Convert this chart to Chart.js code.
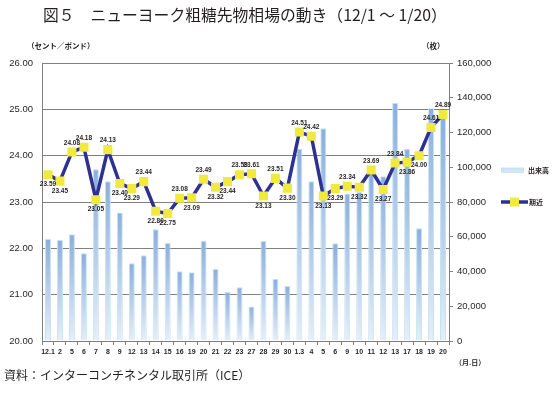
<!DOCTYPE html>
<html lang="ja">
<head>
  <meta charset="UTF-8" />
  <title>ニューヨーク粗糖先物相場の動き</title>
  <script src="https://cdn.jsdelivr.net/npm/chart.js"></script>
  <style>
    body { margin: 0; background: #fff; }
    .wrap { position: relative; width: 554px; height: 396px; }
    .title {
      position: absolute; left: 43px; top: 6px;
      font: 15.8px "Noto Sans CJK JP", sans-serif; color: #231f20; line-height: 18px;
      white-space: nowrap;
    }
    .unit {
      position: absolute; top: 40px;
      font: bold 7.5px "Noto Sans CJK JP", sans-serif; color: #231f20; white-space: nowrap;
    }
    .source {
      position: absolute; left: 4px; top: 366px;
      font: 12px "Noto Sans CJK JP", sans-serif; color: #231f20; white-space: nowrap;
    }
    .xunit {
      position: absolute; left: 455px; top: 357px;
      font: bold 7px "Noto Sans CJK JP", sans-serif; color: #231f20;
    }
    canvas { position: absolute; left: 0; top: 0; }
  </style>
</head>
<body>
<div class="wrap">
  <canvas id="c" width="554" height="396"></canvas>
  <div class="title">図５　ニューヨーク粗糖先物相場の動き（12/1 ～ 1/20）</div>
  <div class="unit" style="left:27px">（セント／ポンド）</div>
  <div class="unit" style="left:422px">（枚）</div>
  <div class="xunit">（月.日）</div>
  <div class="source">資料：インターコンチネンタル取引所（ICE）</div>
</div>

<script>
  // 日付
  const dates = ['12.1','2','5','6','7','8','9','12','13','14','15','16','19','20','21','22','23','27','28','29','30',
                 '1.3','4','5','6','9','10','11','12','13','17','18','19','20'];
  // 期近 (セント/ポンド)
  const prices = [23.59,23.45,24.08,24.18,23.05,24.13,23.40,23.29,23.44,22.80,22.75,23.08,23.09,23.49,23.32,23.44,23.59,23.61,23.13,23.51,23.30,
                  24.51,24.42,23.13,23.29,23.34,23.32,23.69,23.27,23.84,23.86,24.00,24.61,24.89];
  // 出来高 (枚)
  const volumes = [58700,58100,61400,50500,98800,91900,74000,44800,49400,64300,56400,40200,39600,57600,41500,28200,31000,19800,57600,35800,31600,
                   110700,92000,122500,56300,84900,85800,97000,94800,137000,110700,64900,134000,128500];
  // ラベルの位置 (a: 上, b: 下)
  const labelSide = ['b','b','a','a','b','a','b','b','a','b','b','a','b','a','b','b','a','a','b','a','b',
                     'a','a','b','b','a','b','a','b','a','b','b','a','a'];

  const gray = '#808080';
  const ink = '#231f20';

  // データラベルと凡例
  const extras = {
    id: 'extras',
    afterDatasetsDraw(chart) {
      const ctx = chart.ctx;
      const meta = chart.getDatasetMeta(1);
      ctx.save();
      ctx.font = 'bold 6.5px "Liberation Sans", Arial, sans-serif';
      ctx.fillStyle = ink;
      ctx.textAlign = 'center';
      ctx.textBaseline = 'middle';
      meta.data.forEach((pt, i) => {
        const dy = labelSide[i] === 'a' ? -9 : 10;
        ctx.fillText(prices[i].toFixed(2), pt.x, pt.y + dy);
      });

      // 凡例
      const x0 = chart.chartArea.right + 52;
      const y1 = chart.scales.y2.getPixelForValue(100000) + 3;
      const y2 = chart.scales.y2.getPixelForValue(80000);
      const g = ctx.createLinearGradient(0, y1 - 3, 0, y1 + 3);
      g.addColorStop(0, '#c6d8ee');
      g.addColorStop(1, '#e6eff9');
      ctx.fillStyle = g;
      ctx.fillRect(x0, y1 - 2.5, 23, 5);
      ctx.strokeStyle = '#c5e4f0';
      ctx.lineWidth = 1;
      ctx.strokeRect(x0 + 0.5, y1 - 2, 22, 4);

      ctx.strokeStyle = '#2e3192';
      ctx.lineWidth = 3.5;
      ctx.beginPath();
      ctx.moveTo(x0, y2);
      ctx.lineTo(x0 + 27, y2);
      ctx.stroke();
      ctx.fillStyle = '#f0ea3c';
      ctx.fillRect(x0 + 9, y2 - 4.5, 9, 9);

      ctx.fillStyle = ink;
      ctx.textAlign = 'left';
      ctx.font = 'bold 7px "Noto Sans CJK JP", sans-serif';
      ctx.fillText('出来高', x0 + 27, y1);
      ctx.fillText('期近', x0 + 28, y2);
      ctx.restore();
    }
  };

  new Chart(document.getElementById('c'), {
    data: {
      labels: dates,
      datasets: [
        {
          type: 'bar',
          label: '出来高',
          data: volumes,
          yAxisID: 'y2',
          order: 1,
          backgroundColor: (c) => {
            const chart = c.chart;
            if (!chart.chartArea) return '#a9c3e6';
            const top = chart.scales.y2.getPixelForValue(c.raw);
            const g = chart.ctx.createLinearGradient(0, top, 0, chart.chartArea.bottom);
            g.addColorStop(0, '#8caedc');
            g.addColorStop(1, '#e6eef9');
            return g;
          },
          borderColor: '#c5e4f0',
          borderWidth: 1,
          barPercentage: 0.5,
          categoryPercentage: 1
        },
        {
          type: 'line',
          label: '期近',
          data: prices,
          yAxisID: 'y',
          order: 0,
          borderColor: '#2e3192',
          borderWidth: 3.5,
          pointStyle: 'rect',
          pointRadius: 6.4,
          pointBackgroundColor: '#f0ea3c',
          pointBorderWidth: 0,
          tension: 0
        }
      ]
    },
    options: {
      responsive: false,
      animation: false,
      layout: { padding: { left: 0, right: 0, top: 63, bottom: 0 } },
      plugins: { legend: { display: false }, tooltip: { enabled: false } },
      scales: {
        x: {
          offset: true,
          afterFit: (s) => { s.height = 55; },
          grid: { offset: true, drawOnChartArea: false, drawTicks: true, tickLength: 4, color: gray },
          border: { color: gray },
          ticks: {
            autoSkip: false, maxRotation: 0, padding: 3, color: ink,
            font: { family: '"Liberation Sans", Arial, sans-serif', size: 7, weight: 'bold' }
          }
        },
        y: {
          position: 'left',
          min: 20, max: 26,
          afterFit: (s) => { s.width = 42; },
          grid: { color: gray, drawTicks: false },
          border: { color: gray },
          ticks: {
            stepSize: 1, padding: 9, color: ink,
            font: { family: '"Liberation Sans", Arial, sans-serif', size: 9.5 },
            callback: (v) => v.toFixed(2)
          }
        },
        y2: {
          position: 'right',
          min: 0, max: 160000,
          afterFit: (s) => { s.width = 105; },
          grid: { drawOnChartArea: false, drawTicks: true, tickLength: 4, color: gray },
          border: { color: gray },
          ticks: {
            stepSize: 20000, padding: 4, color: ink,
            font: { family: '"Liberation Sans", Arial, sans-serif', size: 9.5 },
            callback: (v) => v.toLocaleString('en-US')
          }
        }
      }
    },
    plugins: [extras]
  });
</script>
</body>
</html>
